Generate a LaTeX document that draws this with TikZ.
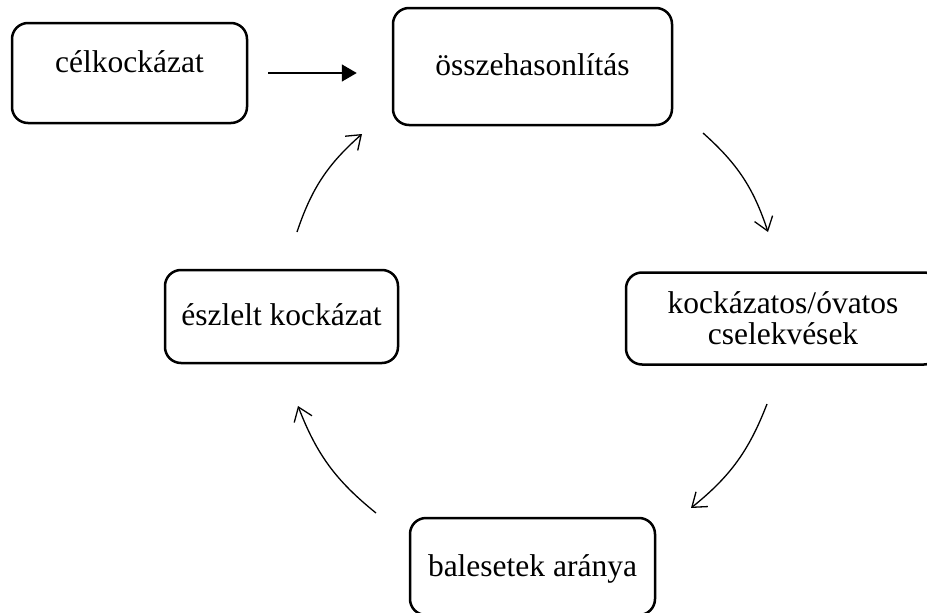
\documentclass[tikz,border=0pt]{standalone}
\usepackage{fontspec}
\setmainfont{Liberation Serif}
\usetikzlibrary{arrows.meta}
\begin{document}
\begin{tikzpicture}[x=1pt,y=1pt,
  box/.style={draw, line width=2.5pt, rounded corners=16pt, inner sep=0pt,
    align=center, font=\fontsize{31.5}{31}\selectfont},
  cyc/.style={line width=1.3pt, -{Straight Barb[length=13pt,width=19pt,line width=1.3pt]}},
  feed/.style={line width=1.5pt, -{Triangle[length=15pt,width=17pt]}}]
\useasboundingbox (0,0) rectangle (927,-613);
\clip (0,0) rectangle (927,-613);
% boxes
\node[box, anchor=base, minimum width=235pt, text height=49pt, text depth=51pt]
  (c) at (129.5,-72) {célkockázat};
\node[box, anchor=base, minimum width=279pt, text height=67pt, text depth=50pt]
  (o) at (532.5,-75) {összehasonlítás};
\node[box, anchor=center, minimum width=314pt, minimum height=92pt]
  (k) at (783,-318.5) {kockázatos/óvatos\\cselekvések};
\node[box, anchor=base, minimum width=233pt, text height=55pt, text depth=38pt]
  (e) at (281.5,-325) {észlelt kockázat};
\node[box, anchor=base, minimum width=245pt, text height=58pt, text depth=39pt]
  (b) at (532.5,-576) {balesetek aránya};
% arrow from target risk
\draw[feed, shorten <=20pt, shorten >=35pt] (c.east) -- (o.west |- c.east);
% cycle arcs
\coordinate (a1s) at (703,-133);
\coordinate (a1e) at (768,-232);
\coordinate (a2s) at (767,-404);
\coordinate (a2e) at (691,-508);
\coordinate (a3s) at (376,-513);
\coordinate (a3e) at (298,-406);
\coordinate (a4s) at (297,-232);
\coordinate (a4e) at (362,-134);
\draw[cyc] (a1s) to[bend left=15] (a1e);
\draw[cyc] (a2s) to[bend left=15] (a2e);
\draw[cyc] (a3s) to[bend left=15] (a3e);
\draw[cyc] (a4s) to[bend left=15] (a4e);
\end{tikzpicture}
\end{document}
